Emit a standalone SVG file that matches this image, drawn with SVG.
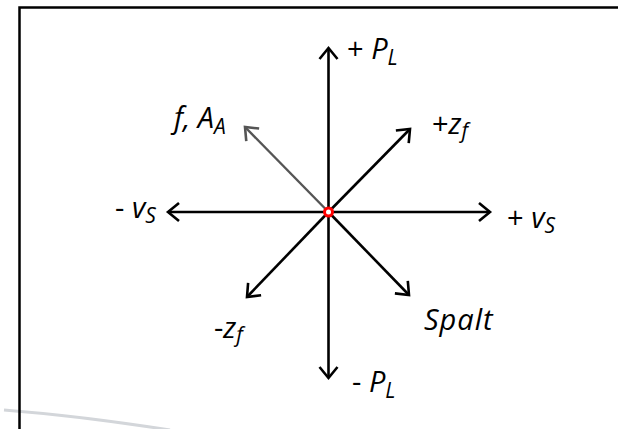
<svg xmlns="http://www.w3.org/2000/svg" width="618" height="429" viewBox="0 0 618 429">
<style>
.ax{stroke:#000;stroke-width:2.6;fill:none;}
.gr{stroke:#555;stroke-width:2.4;fill:none;}
.lbl{font-family:"Open Sans","DejaVu Sans",sans-serif;font-style:italic;font-size:29px;fill:#000;}
.sub{font-size:21px;}
</style>
<defs>
<marker id="ah" markerUnits="userSpaceOnUse" markerWidth="30" markerHeight="30" viewBox="-15 -15 30 30" refX="0" refY="0" orient="auto">
<path d="M-11,-9 L0,0 L-11,9" fill="none" stroke="#000" stroke-width="2.6" stroke-linejoin="miter"/>
</marker>
<marker id="ahg" markerUnits="userSpaceOnUse" markerWidth="30" markerHeight="30" viewBox="-15 -15 30 30" refX="0" refY="0" orient="auto">
<path d="M-11,-9 L0,0 L-11,9" fill="none" stroke="#555" stroke-width="2.6"/>
</marker>
</defs>
<rect width="618" height="429" fill="#fff"/>
<path d="M4,410 Q80,416 170,430" fill="none" stroke="#d3d6da" stroke-width="3"/>
<path d="M19.5,431 V7.5 H620" fill="none" stroke="#000" stroke-width="2.5"/>
<g id="connectors">
<line class="ax" x1="328.5" y1="212" x2="328.5" y2="48" marker-end="url(#ah)"/>
<line class="ax" x1="328.5" y1="212" x2="328.5" y2="378" marker-end="url(#ah)"/>
<line class="ax" x1="328.5" y1="212" x2="168" y2="212" marker-end="url(#ah)"/>
<line class="ax" x1="328.5" y1="212" x2="490" y2="212" marker-end="url(#ah)"/>
<line class="ax" x1="328.5" y1="212" x2="410" y2="129" marker-end="url(#ah)"/>
<line class="ax" x1="328.5" y1="212" x2="247" y2="297" marker-end="url(#ah)"/>
<line class="ax" x1="328.5" y1="212" x2="409" y2="295" marker-end="url(#ah)"/>
<line class="gr" x1="328.5" y1="212" x2="245" y2="127" marker-end="url(#ahg)"/>
</g>
<g id="origin"><circle cx="328.5" cy="212" r="4" fill="#fff" stroke="#f00" stroke-width="3"/></g>
<g id="pPL"><text class="lbl" x="347" y="59"><tspan font-style="normal">+ </tspan>P<tspan class="sub" dy="6">L</tspan></text></g>
<g id="mPL"><text class="lbl" x="352" y="392"><tspan font-style="normal">- </tspan>P<tspan class="sub" dy="6">L</tspan></text></g>
<g id="mvS"><text class="lbl" x="115" y="218"><tspan font-style="normal">- </tspan>v<tspan class="sub" dy="5">S</tspan></text></g>
<g id="pvS"><text class="lbl" x="507" y="228"><tspan font-style="normal">+ </tspan>v<tspan class="sub" dy="5">S</tspan></text></g>
<g id="pzf"><text class="lbl" x="432" y="134"><tspan font-style="normal">+</tspan>z<tspan class="sub" dy="4">f</tspan></text></g>
<g id="mzf"><text class="lbl" x="214" y="338"><tspan font-style="normal">-</tspan>z<tspan class="sub" dy="4">f</tspan></text></g>
<g id="fAA"><text class="lbl" x="174" y="128">f, A<tspan class="sub" dy="6">A</tspan></text></g>
<g id="spalt"><text class="lbl" x="424" y="330" letter-spacing="1">Spalt</text></g>
</svg>
